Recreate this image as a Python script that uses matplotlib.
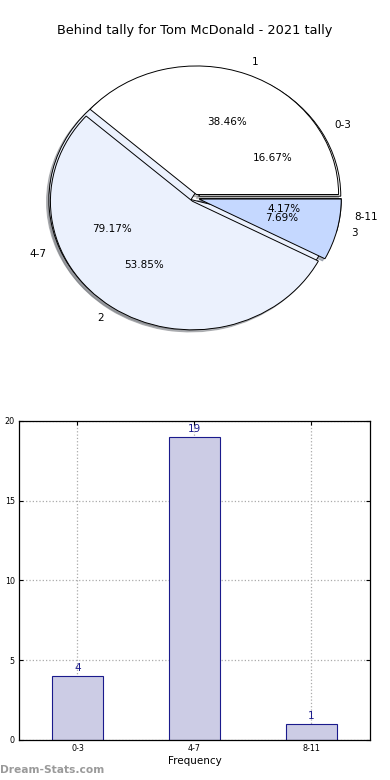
import matplotlib
matplotlib.use("Agg")
import matplotlib.pyplot as plt

# Data
bin_labels = ["0-3", "4-7", "8-11"]
bin_counts = [4, 19, 1]
rank_labels = ["1", "2", "3"]
rank_counts = [5, 7, 1]
pie_colors = ["#FFFFFF", "#EBF1FD", "#C5D8FF"]
title = "Behind tally for Tom McDonald - 2021 tally"
xlabel = "Frequency"
ylabel = "Behind Tally"
yticks = [0, 5, 10, 15, 20]

fig = plt.figure(figsize=(3.9, 7.8), dpi=100)

# Pie chart
ax1 = fig.add_axes([0.0444, 0.540, 0.911, 0.412])
wp = dict(edgecolor="black", linewidth=0.7)
tp = dict(fontsize=7.5)
sh = dict(ox=-0.012, oy=-0.012, shade=0.5)
ax1.pie(bin_counts, labels=bin_labels, colors=pie_colors, autopct="%.2f%%",
        explode=[0.03] * 3, shadow=sh, startangle=0,
        wedgeprops=wp, textprops=tp)
ax1.pie(rank_counts, labels=rank_labels, colors=pie_colors, autopct="%.2f%%",
        explode=[0.03] * 3, shadow=sh, startangle=0,
        wedgeprops=wp, textprops=tp)
ax1.set_aspect("auto")
ax1.set_xlim(-1.25, 1.25)
ax1.set_ylim(-1.25, 1.25)
ax1.set_title(title, fontsize=9.3, pad=1)

# Bar chart
ax2 = fig.add_axes([0.0487, 0.0513, 0.900, 0.409])
x = list(range(len(bin_labels)))
ax2.bar(x, bin_counts, width=0.44, color="#CCCCE5", edgecolor="#1A1A8C",
        linewidth=0.8, zorder=2)
for xi, v in zip(x, bin_counts):
    ax2.annotate(str(v), (xi, v), xytext=(0, 2), textcoords="offset points",
                 ha="center", va="bottom", fontsize=7.5, color="#1A1A8C")
ax2.set_xlim(-0.5, 2.5)
ax2.set_ylim(0, 20)
ax2.set_xticks(x)
ax2.set_xticklabels(bin_labels)
ax2.set_yticks(yticks)
ax2.tick_params(axis="both", direction="in", labelsize=5.8, length=3,
                top=True, right=True, pad=3)
ax2.grid(True, linestyle=":", color="#AAAAAA", linewidth=0.9, zorder=0)
ax2.set_axisbelow(True)
for s in ax2.spines.values():
    s.set_linewidth(0.9)
ax2.set_xlabel(xlabel, fontsize=7.5, labelpad=2)
fig.text(-0.012, 0.2567, ylabel, rotation=90, ha="center", va="center", fontsize=7.5)

fig.text(0.0, 0.0128, "Dream-Stats.com", fontsize=7.7, color="#9A9A9A",
         ha="left", va="center", fontweight="bold")

fig.savefig("out.png", dpi=100)
